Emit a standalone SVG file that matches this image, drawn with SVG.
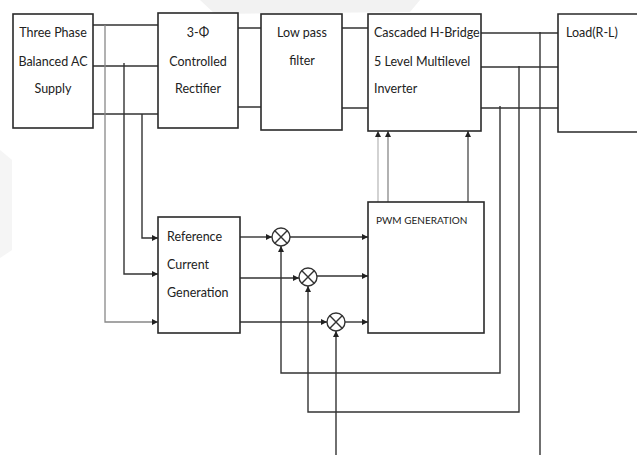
<svg xmlns="http://www.w3.org/2000/svg" width="637" height="455" viewBox="0 0 637 455">
<style>
.box{fill:#fff;stroke:#2a2a2a;stroke-width:1.6}
.t{font-family:Lato,"Liberation Sans",sans-serif;font-size:12.5px;fill:#222}
.c{text-anchor:middle}
.w{fill:none;stroke:#333;stroke-width:1.4}
.l{fill:none;stroke:#888;stroke-width:1.3}
.a{marker-end:url(#ah)}
</style>
<defs>
<marker id="ah" viewBox="0 0 10 10" refX="10" refY="5" markerWidth="6" markerHeight="6" markerUnits="userSpaceOnUse" orient="auto">
<path d="M0,0 L10,5 L0,10 z" fill="#222"/>
</marker>
</defs>
<rect width="637" height="455" fill="#fff"/>
<path d="M200,0 L420,0 L410,12 L215,14 Z" fill="#f2f2f2"/>
<path d="M0,150 L12,160 L12,250 L0,258 Z" fill="#f5f5f5"/>

<g id="connectors">
<path class="w" d="M93,25 H158 M93,66 H158 M93,114 H158"/>
<path class="w" d="M238,28 H261 M238,107 H261"/>
<path class="w" d="M342,28 H368 M342,108 H368"/>
<path class="w" d="M481,33 H558 M481,67 H558 M481,108 H558"/>
<path class="w a" d="M142,114 V238 H158"/>
<path class="w a" d="M124,63 V274 H158"/>
<path class="l a" d="M105,25 V322 H158"/>
<path class="w a" d="M240,237 H272"/>
<path class="w a" d="M240,278 H299"/>
<path class="w a" d="M240,322 H327"/>
<path class="w a" d="M290,237 H368"/>
<path class="w a" d="M317,276 H368"/>
<path class="w a" d="M345,322 H368"/>
<path class="l a" d="M378,202 V131" style="stroke:#bbb"/>
<path class="l a" d="M388,202 V131"/>
<path class="w a" d="M468,202 V131" style="stroke:#555"/>
<path class="w a" d="M500,106 V373 H281 V246"/>
<path class="w a" d="M519,66 V412 H308 V286"/>
<path class="w" d="M540,32 V455"/>
<path class="w a" d="M336,455 V331"/>
</g>

<g id="supply">
<rect class="box" x="13" y="14" width="80" height="114"/>
<text class="t c" x="53" y="37">Three Phase</text>
<text class="t c" x="53" y="66">Balanced AC</text>
<text class="t c" x="53" y="93">Supply</text>
</g>
<g id="rectifier">
<rect class="box" x="158" y="13" width="80" height="115"/>
<text class="t c" x="198" y="37">3-Φ</text>
<text class="t c" x="198" y="66">Controlled</text>
<text class="t c" x="198" y="93">Rectifier</text>
</g>
<g id="filter">
<rect class="box" x="261" y="14" width="81" height="116"/>
<text class="t c" x="302" y="37">Low pass</text>
<text class="t c" x="302" y="65">filter</text>
</g>
<g id="inverter">
<rect class="box" x="368" y="14" width="113" height="117"/>
<text class="t" x="374" y="37">Cascaded H-Bridge</text>
<text class="t" x="374" y="66">5 Level Multilevel</text>
<text class="t" x="374" y="93">Inverter</text>
</g>
<g id="load">
<path class="box" d="M640,14 H558 V132 H640"/>
<text class="t" x="566" y="37">Load(R-L)</text>
</g>
<g id="refgen">
<rect class="box" x="158" y="217" width="82" height="116"/>
<text class="t" x="167" y="241">Reference</text>
<text class="t" x="167" y="269">Current</text>
<text class="t" x="167" y="297">Generation</text>
</g>
<g id="pwm">
<rect class="box" x="368" y="202" width="116" height="131"/>
<text class="t" x="376" y="224" style="font-size:10px">PWM GENERATION</text>
</g>
<g id="sum1">
<circle class="w" cx="281" cy="237" r="9" fill="#fff"/>
<path class="w" d="M274.6,230.6 L287.4,243.4 M287.4,230.6 L274.6,243.4"/>
</g>
<g id="sum2">
<circle class="w" cx="308" cy="277" r="9" fill="#fff"/>
<path class="w" d="M301.6,270.6 L314.4,283.4 M314.4,270.6 L301.6,283.4"/>
</g>
<g id="sum3">
<circle class="w" cx="336" cy="322" r="9" fill="#fff"/>
<path class="w" d="M329.6,315.6 L342.4,328.4 M342.4,315.6 L329.6,328.4"/>
</g>
</svg>
